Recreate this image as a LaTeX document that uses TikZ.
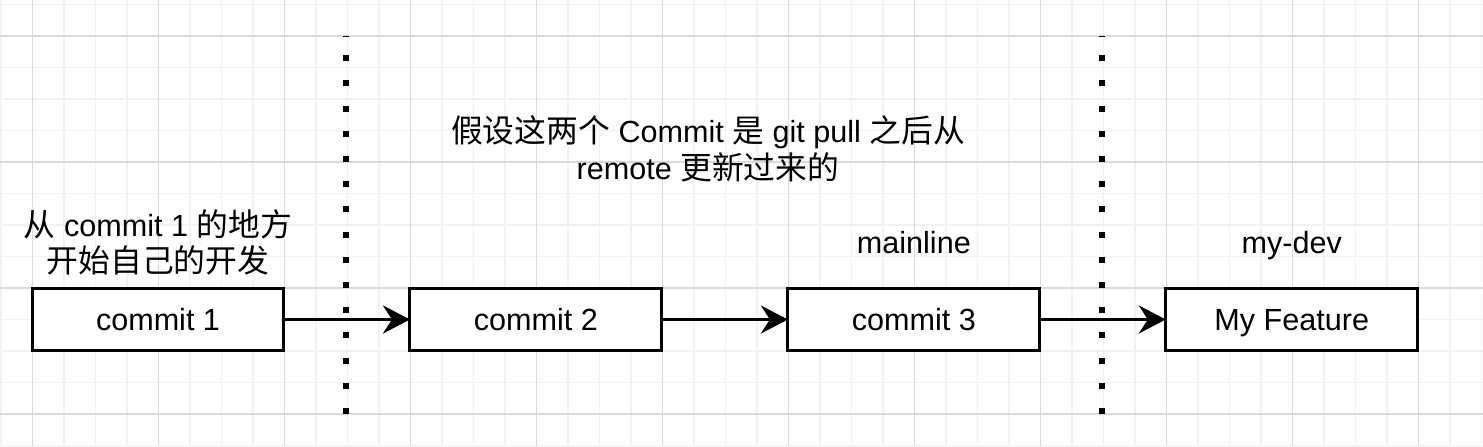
\documentclass[tikz,border=0pt]{standalone}
\usepackage{fontspec}
\setmainfont{Liberation Sans}
\newfontfamily\cjk[Scale=1.04]{Noto Sans CJK SC}
\usetikzlibrary{positioning, arrows.meta}

\definecolor{gridminor}{HTML}{F2F2F2}
\definecolor{gridmajor}{HTML}{DADADA}

\begin{document}
\begin{tikzpicture}[
		x=0.02cm, y=-0.02cm,
		node distance=1cm and 2.52cm,
		every node/.style={font=\fontsize{17.4}{21}\selectfont},
		commit/.style={rectangle, draw, line width=0.06cm, fill=white, minimum width=5.04cm, minimum height=1.26cm, outer sep=0pt, text height=12.5pt, text depth=0pt},
		tag/.style={inner sep=0pt},
		note/.style={align=center, inner sep=0pt},
		pointer/.style={-{Stealth[length=0.54cm, width=0.56cm, inset=0.18cm]}, line width=0.06cm},
		divider/.style={line width=0.12cm, dash pattern=on 0.12cm off 0.384cm}
		]
		
		\useasboundingbox (0,0) rectangle (1483,446);
		
		% Grid
		\foreach \i in {0,...,47}
			\draw[gridminor, line width=0.03cm] ({0.8+31.5*\i},0) -- ({0.8+31.5*\i},446);
		\foreach \j in {0,...,14}
			\draw[gridminor, line width=0.03cm] (0,{4.5+31.5*\j}) -- (1483,{4.5+31.5*\j});
		\foreach \i in {0,...,11}
			\draw[gridmajor, line width=0.03cm] ({32.3+126*\i},0) -- ({32.3+126*\i},446);
		\foreach \j in {0,...,3}
			\draw[gridmajor, line width=0.03cm] (0,{36+126*\j}) -- (1483,{36+126*\j});
		
		% Commits
		\node[commit] (c1) at (158,319.5) {commit 1};
		\node[commit, right=of c1] (c2) {commit 2};
		\node[commit, right=of c2] (c3) {commit 3};
		\node[commit, right=of c3] (feature) {My Feature};
		
		% Labels
		\node[note, above=0.24cm of c1] (startnote) {{\cjk 从} commit 1 {\cjk 的地方}\\{\cjk 开始自己的开发}};
		\node[note] (pullnote) at (708,149) {{\cjk 假设这两个} Commit {\cjk 是} git pull {\cjk 之后从}\\remote {\cjk 更新过来的}};
		\node[tag, above=0.7cm of c3.north, anchor=base] (mainline) {mainline};
		\node[tag, above=0.7cm of feature.north, anchor=base] (mydev) {my-dev};
		
		% Dividers
		\coordinate (d1top) at (346,36);
		\coordinate (d1bot) at (346,414);
		\coordinate (d2top) at (1102,36);
		\coordinate (d2bot) at (1102,414);
		\draw[divider] (d1bot) -- (d1top);
		\draw[divider] (d2bot) -- (d2top);
		
		% Pointers
		\draw[pointer] (c1) -- (c2);
		\draw[pointer] (c2) -- (c3);
		\draw[pointer] (c3) -- (feature);
		
	\end{tikzpicture}
\end{document}
